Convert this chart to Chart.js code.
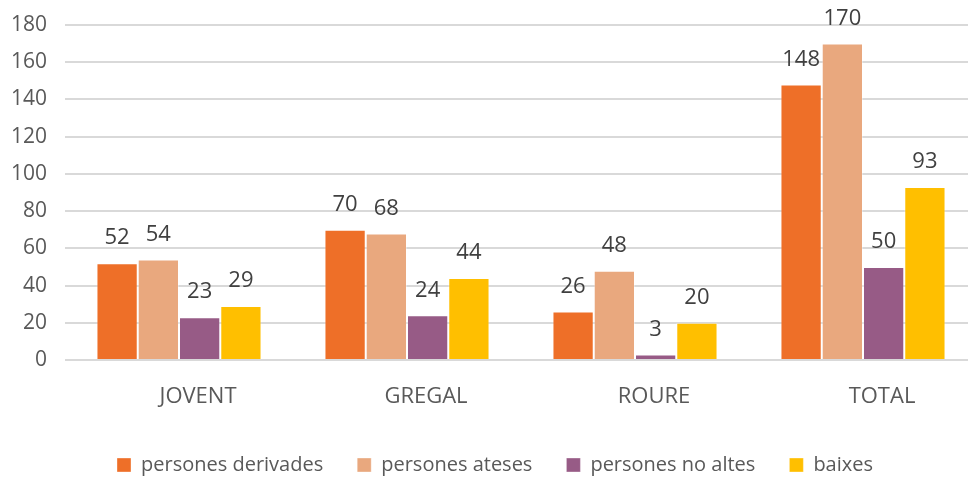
<!DOCTYPE html>
<html>
<head>
<meta charset="utf-8">
<script src="https://cdn.jsdelivr.net/npm/chart.js@4"></script>
<style>
  html, body { margin: 0; padding: 0; background: #fff; overflow: hidden; }
  #wrap { width: 980px; height: 480px; }
</style>
</head>
<body>
<div id="wrap"><canvas id="chart"></canvas></div>
<script>
// categories and series
const categories = ['JOVENT', 'GREGAL', 'ROURE', 'TOTAL'];
const derivades = [52, 70, 26, 148];
const ateses = [54, 68, 48, 170];
const noAltes = [23, 24, 3, 50];
const baixes = [29, 44, 20, 93];
const seriesNames = ['persones derivades', 'persones ateses', 'persones no altes', 'baixes'];
const seriesColors = ['#EE6F28', '#E9A87E', '#975B86', '#FFBF00'];

const FONT = 'Open Sans';

// value labels over every bar
const barLabels = {
    id: 'barLabels',
    afterDatasetsDraw(chart) {
        const ctx = chart.ctx;
        ctx.save();
        ctx.font = '22px "' + FONT + '"';
        ctx.fillStyle = '#404040';
        ctx.textAlign = 'center';
        ctx.textBaseline = 'middle';
        chart.data.datasets.forEach(function(ds, i) {
            chart.getDatasetMeta(i).data.forEach(function(bar, j) {
                ctx.fillText(ds.data[j], bar.x, bar.y - 25);
            });
        });
        ctx.restore();
    }
};

const allData = [derivades, ateses, noAltes, baixes];

new Chart(document.getElementById('chart'), {
    type: 'bar',
    data: {
        labels: categories,
        datasets: allData.map(function(d, i) {
            return {
                label: seriesNames[i],
                data: d,
                backgroundColor: seriesColors[i],
                borderColor: 'rgba(255,255,255,0.35)',
                borderWidth: 1,
                barPercentage: 1,
                categoryPercentage: 0.724
            };
        })
    },
    options: {
        responsive: true,
        maintainAspectRatio: false,
        animation: false,
        layout: { padding: { top: 25, left: 13, right: 3, bottom: -5 } },
        plugins: {
            tooltip: { enabled: false },
            legend: {
                position: 'bottom',
                labels: {
                    boxWidth: 14,
                    boxHeight: 14,
                    padding: 34,
                    color: '#595959',
                    font: { family: FONT, size: 20 }
                }
            }
        },
        scales: {
            x: {
                grid: { display: false, drawTicks: false },
                border: { display: false },
                ticks: {
                    color: '#595959',
                    padding: 24,
                    labelOffset: 19,
                    font: { family: FONT, size: 22 }
                },
                afterFit: function(scale) { scale.height = 61; }
            },
            y: {
                min: 0,
                max: 180,
                grid: { color: '#D9D9D9', lineWidth: 2, drawTicks: false },
                border: { display: false },
                ticks: {
                    stepSize: 20,
                    color: '#595959',
                    padding: 18,
                    font: { family: FONT, size: 21 }
                },
                afterFit: function(scale) {
                    scale.width = 52;
                    scale.paddingTop = 0;
                }
            }
        }
    },
    plugins: [barLabels]
});
</script>
</body>
</html>
